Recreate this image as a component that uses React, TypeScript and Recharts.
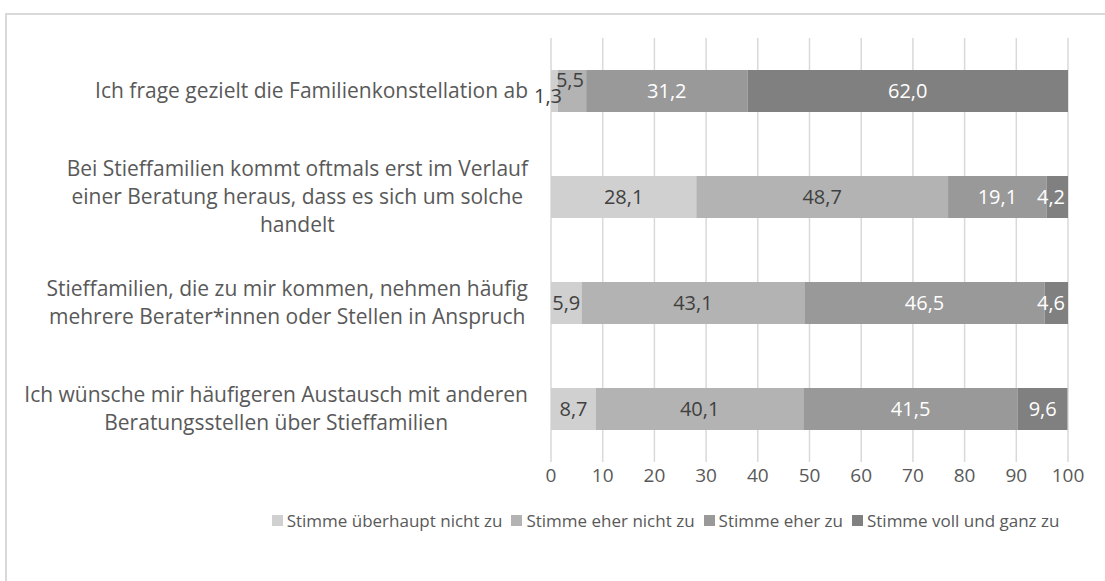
import React from "react";
import {
  BarChart,
  Bar,
  XAxis,
  YAxis,
  CartesianGrid,
  Legend,
  LabelList,
} from "recharts";

// Kategorien (Zeilenumbrüche wie im Original)
const categoryLines: string[][] = [
  ["Ich frage gezielt die Familienkonstellation ab"],
  [
    "Bei Stieffamilien kommt oftmals erst im Verlauf",
    "einer Beratung heraus, dass es sich um solche",
    "handelt",
  ],
  [
    "Stieffamilien, die zu mir kommen, nehmen häufig",
    "mehrere Berater*innen oder Stellen in Anspruch",
  ],
  [
    "Ich wünsche mir häufigeren Austausch mit anderen",
    "Beratungsstellen über Stieffamilien",
  ],
];

const seriesNames = [
  "Stimme überhaupt nicht zu",
  "Stimme eher nicht zu",
  "Stimme eher zu",
  "Stimme voll und ganz zu",
];

const ueberhauptNicht = [1.3, 28.1, 5.9, 8.7];
const eherNicht = [5.5, 48.7, 43.1, 40.1];
const eherZu = [31.2, 19.1, 46.5, 41.5];
const vollUndGanz = [62.0, 4.2, 4.6, 9.6];

const xTicks = [0, 10, 20, 30, 40, 50, 60, 70, 80, 90, 100];

const COLORS = ["#d0d0d0", "#b3b3b3", "#999999", "#808080"];
const LABEL_COLORS = ["#404040", "#404040", "#ffffff", "#ffffff"];
const FONT = "'Open Sans', sans-serif";
const CAT_SIZE = 21;
const TICK_SIZE = 19;
const LABEL_SIZE = 20;
const LEGEND_SIZE = 17;
const KEYS = ["s0", "s1", "s2", "s3"];

const data = categoryLines.map((lines, i) => ({
  name: lines.join(" "),
  s0: ueberhauptNicht[i],
  s1: eherNicht[i],
  s2: eherZu[i],
  s3: vollUndGanz[i],
}));

let ctx: CanvasRenderingContext2D | null = null;
function textWidth(s: string) {
  if (!ctx) ctx = document.createElement("canvas").getContext("2d");
  if (!ctx) return s.length * 10;
  ctx.font = `${CAT_SIZE}px ${FONT}`;
  return ctx.measureText(s).width;
}

const fmt = (v: number) => v.toFixed(1).replace(".", ",");

// mehrzeilige Beschriftung: Block rechtsbündig, Zeilen zentriert
function CategoryTick(props: any) {
  const { x, y, index } = props;
  const lines = categoryLines[index] ?? [];
  const right = x - 15;
  const widths = lines.map(textWidth);
  const maxW = Math.max(...widths);
  const lh = 28;
  const startY = y - ((lines.length - 1) * lh) / 2;
  return (
    <text textAnchor="end" fill="#595959" fontSize={CAT_SIZE} fontFamily={FONT}>
      {lines.map((l, i) => (
        <tspan
          key={i}
          x={right - (maxW - widths[i]) / 2}
          y={startY + i * lh}
          dy="0.35em"
        >
          {l}
        </tspan>
      ))}
    </text>
  );
}

const makeLabel = (series: number) => (props: any) => {
  const { x, y, width, height, value, index } = props;
  let cx = x + width / 2;
  let cy = y + height / 2;
  // Excel verschiebt die kleinen Werte in der ersten Zeile
  if (index === 0 && series === 0) {
    cx = x - 3;
    cy += 5;
  }
  if (index === 0 && series === 1) {
    cx -= 2;
    cy -= 11;
  }
  // schmale Segmente am rechten Rand: Wert ganz sichtbar halten
  if (series === 3 && width < 30) {
    cx = Math.min(cx, 1068 - 17);
  }
  return (
    <text
      x={cx}
      y={cy}
      dy="0.35em"
      textAnchor="middle"
      fill={index === 0 && series < 2 ? "#404040" : LABEL_COLORS[series]}
      fontSize={LABEL_SIZE}
      fontFamily={FONT}
    >
      {fmt(value)}
    </text>
  );
};

function LegendContent() {
  return (
    <div
      style={{
        display: "flex",
        justifyContent: "center",
        gap: 9,
        fontFamily: FONT,
        fontSize: LEGEND_SIZE,
        color: "#595959",
        paddingLeft: 226,
      }}
    >
      {seriesNames.map((n, i) => (
        <div key={n} style={{ display: "flex", alignItems: "center" }}>
          <span
            style={{
              display: "inline-block",
              width: 11,
              height: 11,
              background: COLORS[i],
              marginRight: 4,
            }}
          />
          {n}
        </div>
      ))}
    </div>
  );
}

export default function App() {
  return (
    <div
      style={{
        position: "fixed",
        left: 0,
        top: 0,
        width: 1105,
        height: 581,
        background: "#fff",
        overflow: "hidden",
      }}
    >
      <div
        style={{
          position: "absolute",
          left: 5,
          top: 13,
          width: 1120,
          height: 600,
          border: "2px solid #d9d9d9",
        }}
      />
      <div style={{ position: "absolute", left: 0, top: 0 }}>
        <BarChart
          width={1105}
          height={581}
          data={data}
          layout="vertical"
          margin={{ top: 38, right: 37, bottom: 88, left: 0 }}
        >
          <CartesianGrid horizontal={false} stroke="#d9d9d9" strokeWidth={1.5} />
          <XAxis
            type="number"
            domain={[0, 100]}
            ticks={xTicks}
            allowDataOverflow
            axisLine={false}
            tickLine={false}
            height={8}
            tickMargin={1}
            tick={{ fill: "#595959", fontSize: TICK_SIZE, fontFamily: FONT }}
          />
          <YAxis
            type="category"
            dataKey="name"
            width={551}
            axisLine={false}
            tickLine={false}
            tick={<CategoryTick />}
          />
          <Legend
            content={<LegendContent />}
            wrapperStyle={{ top: 509, left: 0, width: 1105 }}
          />
          {KEYS.map((k, i) => (
            <Bar
              key={k}
              dataKey={k}
              name={seriesNames[i]}
              stackId="a"
              fill={COLORS[i]}
              barSize={42}
              isAnimationActive={false}
            >
              <LabelList dataKey={k} content={makeLabel(i)} />
            </Bar>
          ))}
        </BarChart>
      </div>
    </div>
  );
}
